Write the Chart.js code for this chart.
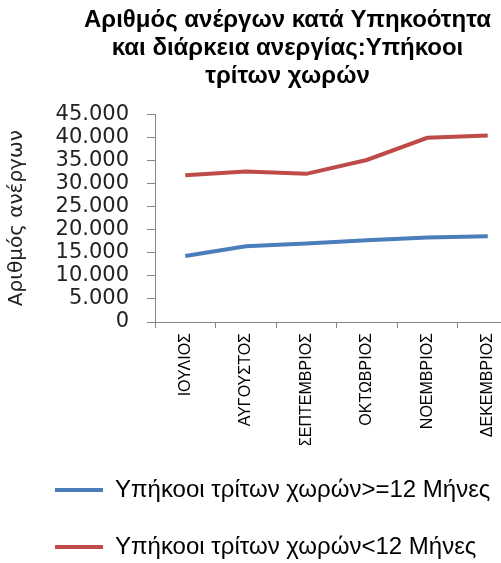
<!DOCTYPE html>
<html>
<head>
<meta charset="utf-8">
<script src="https://cdn.jsdelivr.net/npm/chart.js@4/dist/chart.umd.min.js"></script>
<style>
  html, body { margin: 0; padding: 0; background: #fff; overflow: hidden; }
  #wrap { width: 553px; height: 569px; }
</style>
</head>
<body>
<div id="wrap"><canvas id="unemployedChart" width="553" height="569"></canvas></div>
<script>
const months = ["ΙΟΥΛΙΟΣ", "ΑΥΓΟΥΣΤΟΣ", "ΣΕΠΤΕΜΒΡΙΟΣ", "ΟΚΤΩΒΡΙΟΣ", "ΝΟΕΜΒΡΙΟΣ", "ΔΕΚΕΜΒΡΙΟΣ"];
const longTerm = [14300, 16400, 17000, 17700, 18300, 18600];
const shortTerm = [31800, 32600, 32100, 35100, 39900, 40400];
const seriesNames = ["Υπήκοοι τρίτων χωρών>=12 Μήνες", "Υπήκοοι τρίτων χωρών<12 Μήνες"];
const titleLines = ["Αριθμός ανέργων κατά Υπηκοότητα", "και διάρκεια ανεργίας:Υπήκοοι", "τρίτων χωρών"];
const yTitle = "Αριθμός ανέργων";
const yMax = 45000;
const yStep = 5000;

const axisGray = "#868686";

// 45000 -> "45.000"
function formatThousands(v) {
  return String(v).replace(/\B(?=(\d{3})+(?!\d))/g, ".");
}

new Chart(document.getElementById("unemployedChart"), {
  type: "line",
  data: {
    labels: months,
    datasets: [
      {
        label: seriesNames[0],
        data: longTerm,
        borderColor: "#4A7EBB",
        backgroundColor: "#4A7EBB",
        borderWidth: 4,
        pointRadius: 0,
        tension: 0
      },
      {
        label: seriesNames[1],
        data: shortTerm,
        borderColor: "#BE4B48",
        backgroundColor: "#BE4B48",
        borderWidth: 4,
        pointRadius: 0,
        tension: 0
      }
    ]
  },
  options: {
    responsive: false,
    animation: false,
    layout: { padding: { left: 22, right: 0, top: 0, bottom: 0 } },
    plugins: {
      title: {
        display: true,
        text: titleLines,
        color: "#000",
        font: { family: "'Liberation Sans', Arial, sans-serif", size: 24, weight: "bold", lineHeight: 1.15 },
        padding: { top: 7, bottom: 24.5 }
      },
      legend: {
        position: "bottom",
        align: "start",
        labels: {
          usePointStyle: true,
          pointStyle: "line",
          pointStyleWidth: 48,
          color: "#000",
          padding: 33,
          font: { family: "'Liberation Sans', Arial, sans-serif", size: 24 }
        }
      },
      tooltip: { enabled: false }
    },
    scales: {
      x: {
        offset: true,
        grid: { display: true, offset: true, drawOnChartArea: false, drawTicks: true, tickLength: 6, color: axisGray },
        border: { display: true, color: axisGray, width: 1 },
        ticks: {
          minRotation: 90,
          maxRotation: 90,
          padding: 5,
          color: "#000",
          font: { family: "'Liberation Sans', Arial, sans-serif", size: 16 }
        },
        afterFit: (scale) => { scale.height = 123; }
      },
      y: {
        min: 0,
        max: yMax,
        grid: { display: true, drawOnChartArea: false, drawTicks: true, tickLength: 8, color: axisGray },
        border: { display: true, color: axisGray, width: 1 },
        ticks: {
          stepSize: yStep,
          autoSkip: false,
          padding: 18,
          color: "#222",
          font: { family: "'DejaVu Sans', sans-serif", size: 21 },
          callback: (v) => formatThousands(v)
        },
        title: {
          display: true,
          text: yTitle,
          color: "#222",
          font: { family: "'DejaVu Sans', sans-serif", size: 20, lineHeight: 1.2 },
          padding: { top: -17, bottom: 0 }
        },
        afterFit: (scale) => { scale.width = 133; }
      },
      // empty spacer on the right so the title centres over the full figure
      spacer: {
        type: "linear",
        position: "right",
        display: true,
        grid: { display: false },
        border: { display: false },
        ticks: { display: false },
        afterFit: (scale) => { scale.width = 35; }
      }
    }
  }
});
</script>
</body>
</html>
